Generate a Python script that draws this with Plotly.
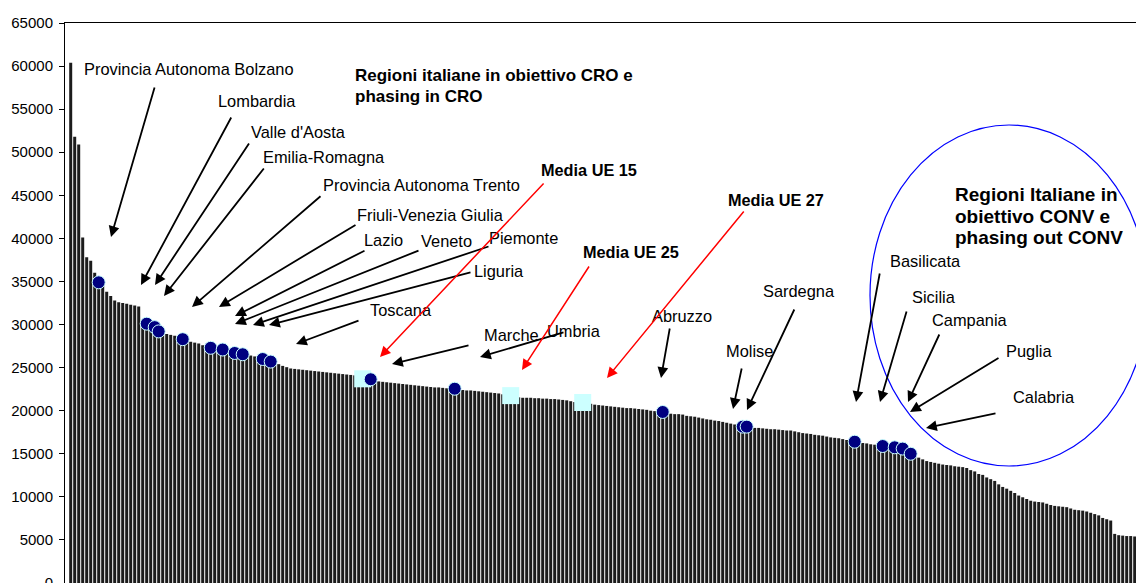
import plotly.graph_objects as go

# ---------------- data ----------------
values = [
    60400, 51800, 50900, 40100, 37800, 37400, 36000, 34900, 34500, 33800,
    33300, 32800, 32600, 32500, 32400, 32300, 32200, 32100, 30400, 30100,
    29900, 29700, 29200, 29000, 28900, 28800, 28700, 28500, 28300, 28200,
    28000, 27900, 27800, 27600, 27500, 27300, 27250, 27200, 27100, 27000,
    26900, 26700, 26650, 26550, 26450, 26400, 26300, 26200, 26000, 25900,
    25700, 25550, 25400, 25200, 25050, 24900, 24850, 24800, 24750, 24700,
    24650, 24600, 24550, 24500, 24450, 24400, 24350, 24300, 24250, 24200,
    24150, 24100, 24050, 23950, 23850, 23650, 23450, 23400, 23350, 23300,
    23250, 23200, 23150, 23100, 23050, 23000, 22950, 22900, 22850, 22800,
    22750, 22700, 22700, 22650, 22600, 22600, 22550, 22450, 22400, 22350,
    22350, 22300, 22250, 22200, 22150, 22100, 22050, 22000, 21900, 21850,
    21750, 21600, 21550, 21500, 21500, 21500, 21450, 21450, 21400, 21400,
    21350, 21350, 21300, 21250, 21200, 21100, 21000, 20950, 20900, 20850,
    20800, 20700, 20650, 20600, 20550, 20500, 20450, 20400, 20350, 20300,
    20300, 20250, 20200, 20150, 20100, 20000, 19950, 19900, 19850, 19700,
    19650, 19600, 19600, 19550, 19400, 19350, 19300, 19200, 19100, 19000,
    18950, 18850, 18800, 18700, 18600, 18500, 18400, 18300, 18150, 18150,
    18050, 18000, 18000, 17950, 17900, 17850, 17850, 17800, 17750, 17700,
    17700, 17600, 17500, 17400, 17350, 17300, 17200, 17150, 17100, 17000,
    16900, 16850, 16800, 16700, 16600, 16550, 16400, 16300, 16250, 16200,
    16100, 16050, 16000, 15900, 15850, 15800, 15750, 15700, 15600, 15400,
    15000, 14750, 14550, 14350, 14150, 14050, 13950, 13850, 13750, 13700,
    13650, 13550, 13500, 13450, 13350, 13100, 12950, 12650, 12550, 12250,
    12050, 11850, 11450, 11150, 10950, 10700, 10450, 10150, 9950, 9750,
    9550, 9450, 9400, 9350, 9200, 9050, 8950, 8900, 8850, 8800,
    8650, 8500, 8450, 8400, 8300, 8150, 8000, 7850, 7550, 7400,
    7250, 5700, 5550, 5500, 5450, 5450, 5400, 5400,
]

italian_regions = ["Provincia Autonoma Bolzano", "Lombardia", "Valle d'Aosta",
                   "Emilia-Romagna", "Provincia Autonoma Trento",
                   "Friuli-Venezia Giulia", "Lazio", "Veneto", "Piemonte",
                   "Liguria", "Toscana", "Marche", "Umbria", "Abruzzo",
                   "Molise", "Sardegna", "Basilicata", "Sicilia", "Campania",
                   "Puglia", "Calabria"]
italian_rank = [7, 19, 21, 22, 28, 35, 38, 41, 43, 48, 50, 75, 96, 148,
                168, 169, 196, 203, 206, 208, 210]

eu_labels = ["Media UE 15", "Media UE 25", "Media UE 27"]
eu_rank = [73, 110, 128]
eu_values = [23700, 21750, 20950]

y_ticks = [0, 5000, 10000, 15000, 20000, 25000, 30000, 35000, 40000,
           45000, 50000, 55000, 60000, 65000]
y_tick_labels = [str(v) for v in y_ticks]

group_title_cro = ["Regioni italiane in obiettivo CRO e", "phasing in CRO"]
group_title_conv = ["Regioni Italiane in", "obiettivo CONV e", "phasing out CONV"]

# ---------------- layout geometry ----------------
# page body has an 8px margin; positions below are absolute screen pixels
OFF = 8
SCREEN_W, SCREEN_H = 1144, 583
W, H = SCREEN_W - OFF, SCREEN_H - OFF
PLOT_L, PLOT_T = 65, 23            # absolute screen position of plot box
ML, MT = PLOT_L - OFF, PLOT_T - OFF
PW, PH = W - ML, H - MT


def px(x):
    return (x - PLOT_L) / PW


def py(y):
    return 1 - (y - PLOT_T) / PH


FONT = "Liberation Sans, Arial, sans-serif"
FS_TICK = 15
FS_LABEL = 16.4
FS_MEDIA = 16.3
FS_CRO = 17
FS_CONV = 19

fig = go.Figure()
fig.add_trace(go.Bar(
    x=list(range(len(values))), y=values,
    marker=dict(color="#1c1c1c", line=dict(width=0)),
    hoverinfo="skip",
))
fig.add_trace(go.Scatter(
    x=eu_rank, y=eu_values, mode="markers",
    marker=dict(symbol="square", size=17, color="#CCFFFF", line=dict(width=0)),
    text=eu_labels, hoverinfo="text",
))
fig.add_trace(go.Scatter(
    x=italian_rank, y=[values[i] for i in italian_rank], mode="markers",
    marker=dict(symbol="circle", size=13, color="#000080",
                line=dict(width=1, color="#CCFFFF")),
    text=italian_regions, hoverinfo="text",
))

annotations = []


def label(text, x, y, size, bold=False):
    annotations.append(dict(
        xref="paper", yref="paper", x=px(x), y=py(y),
        text=(f"<b>{text}</b>" if bold else text),
        showarrow=False, xanchor="left", yanchor="middle", borderpad=0,
        font=dict(family=FONT, size=size, color="black"),
    ))


def arrow(tail, head, color="black", width=1.8, size=1.2):
    annotations.append(dict(
        xref="paper", yref="paper", x=px(head[0]), y=py(head[1]),
        ax=tail[0] - head[0], ay=tail[1] - head[1], text="",
        showarrow=True, arrowhead=2, arrowsize=size, arrowwidth=width,
        arrowcolor=color, standoff=0,
    ))


# region labels (text left edge x, centre y) and arrows (tail, head)
region_text_pos = [(83, 69), (217, 101), (250, 132), (262, 157), (322, 185),
                   (356, 215), (363, 240), (420, 241), (488, 238), (473, 271),
                   (369, 310), (483, 335), (546, 331), (651, 316), (725, 351),
                   (762, 291), (889, 261), (911, 297), (931, 320), (1005, 351),
                   (1012, 397)]
region_arrows = [((155, 86), (111, 237)), ((232, 116), (141, 285)),
                 ((250, 142), (155, 285)), ((265, 167), (164, 296)),
                 ((322, 195), (192, 307)), ((357, 224), (219, 307)),
                 ((366, 250), (235, 316)), ((420, 250), (235, 324)),
                 ((490, 246), (253, 325)), ((472, 272), (269, 325)),
                 ((360, 320), (296, 344)), ((470, 345), (392, 364)),
                 ((565, 332), (480, 357)), ((670, 327), (661, 378)),
                 ((742, 367), (733, 409)), ((795, 308), (747, 410)),
                 ((880, 272), (856, 402)), ((907, 310), (880, 402)),
                 ((940, 333), (908, 402)), ((1000, 357), (910, 412)),
                 ((997, 413), (926, 428))]
for name, (tx, ty) in zip(italian_regions, region_text_pos):
    label(name, tx, ty, FS_LABEL)
for tail, head in region_arrows:
    arrow(tail, head)

eu_text_pos = [(540, 170), (582, 252), (727, 200)]
eu_arrows = [((545, 182), (380, 357)), ((590, 265), (522, 370)),
             ((745, 210), (607, 378))]
for name, (tx, ty) in zip(eu_labels, eu_text_pos):
    label(name, tx, ty, FS_MEDIA, bold=True)
for tail, head in eu_arrows:
    arrow(tail, head, color="#FF0000", width=1.5, size=1.4)

for i, line in enumerate(group_title_cro):
    label(line, 354, 75 + 22 * i, FS_CRO, bold=True)
for i, line in enumerate(group_title_conv):
    label(line, 954, 194 + 22 * i, FS_CONV, bold=True)

shapes = [dict(type="circle", xref="paper", yref="paper",
               x0=px(870), x1=px(1148), y0=py(466), y1=py(125),
               line=dict(color="#0000FF", width=1.2))]

fig.update_layout(
    width=W, height=H,
    margin=dict(l=ML, r=0, t=MT, b=0, pad=0, autoexpand=False),
    paper_bgcolor="white", plot_bgcolor="white",
    showlegend=False, bargap=0.25,
    font=dict(family=FONT, size=FS_TICK, color="black"),
    annotations=annotations, shapes=shapes,
    xaxis=dict(range=[-1.425, -1.425 + PW / 4.0], showticklabels=False,
               ticks="", showgrid=False, zeroline=False, automargin=False,
               showline=True, linecolor="black", linewidth=1, mirror=True),
    yaxis=dict(range=[0, 65000], tickmode="array", tickvals=y_ticks,
               ticktext=y_tick_labels, ticks="outside", ticklen=5,
               tickcolor="black", showgrid=False, zeroline=False,
               automargin=False, ticklabeloverflow="allow",
               showline=True, linecolor="black", linewidth=1,
               tickfont=dict(family=FONT, size=FS_TICK, color="black"),
               ticklabelstandoff=3),
)

fig.write_html("out.html")
